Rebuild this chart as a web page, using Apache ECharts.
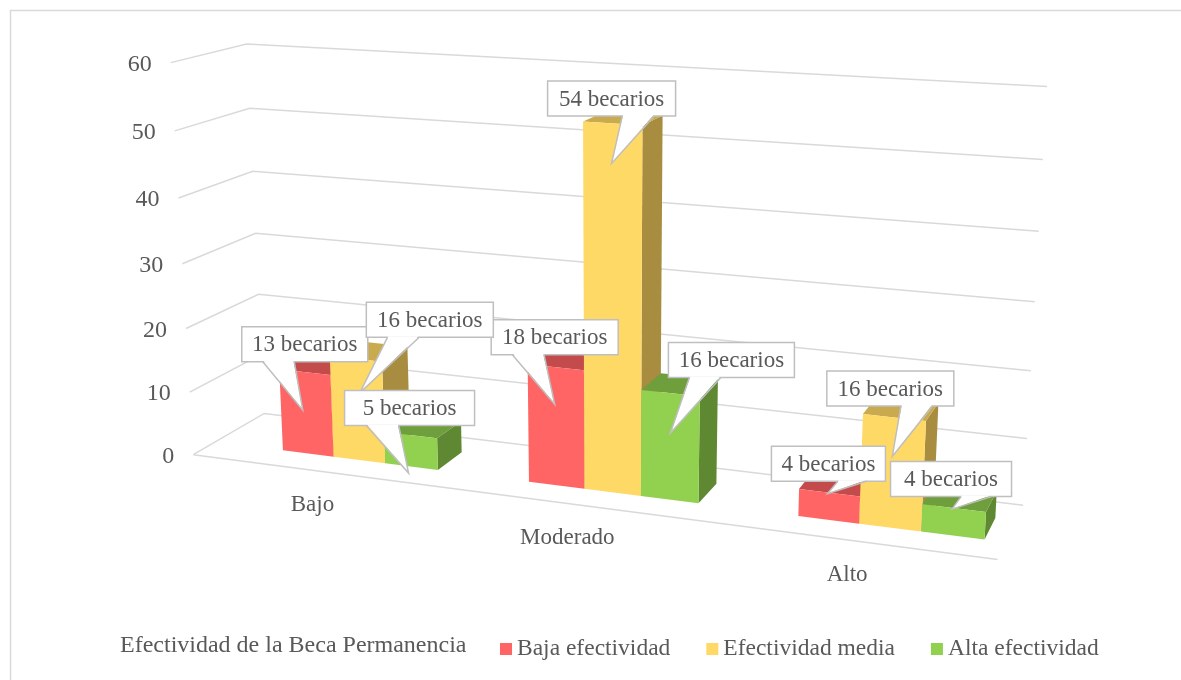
<!DOCTYPE html>
<html>
<head>
<meta charset="utf-8">
<script src="https://cdn.jsdelivr.net/npm/echarts@6/dist/echarts.min.js"></script>
<style>
html, body { margin: 0; padding: 0; background: #fff; }
#main { width: 1181px; height: 680px; }
</style>
</head>
<body>
<div id="main"></div>
<script>
// datos
var categories = ['Bajo', 'Moderado', 'Alto'];
var seriesNames = ['Baja efectividad', 'Efectividad media', 'Alta efectividad'];
var bajaData = [13, 18, 4];
var mediaData = [16, 54, 16];
var altaData = [5, 16, 4];
var yTicks = [0, 10, 20, 30, 40, 50, 60];
var legendTitle = 'Efectividad de la Beca Permanencia';
var unitText = ' becarios';

// estilos
var FAMILY = 'Liberation Serif';
var TEXT_COLOR = '#595959';
var GRID_COLOR = '#d9d9d9';
// [frente, arriba, lado]
var faceColors = [
    ['#FF6565', '#C44B4B', '#B24444'],
    ['#FFD966', '#C9AA4E', '#A88C3F'],
    ['#92D050', '#6F9E3D', '#5F8833']
];
var groupFrac = 0.64;  // ancho del grupo de barras dentro de la categoria
var barShift = 0.11;   // desplazamiento del grupo
var zFront = 0.3, zBack = 0.7;

// posicion de cada etiqueta (globo): punta dx,dy ; caja dx,dy ; ancho ; lado del pico
var calloutLayout = [
    [[-2, 38, 2, -66, 126, -1], [-1, 37, 0, -67, 127, -1], [-2, 1, 1, -30, 114, 1]],
    [[4, 34, 70, -73, 127, -1], [-1, 40, 0, -65, 128, 1], [-2, 39, -2, -68, 127, 1]],
    [[-2, 38, 1, -65, 130, -1], [0, 40, 61, -73, 126, -1], [-2, 1, -1, -30, 121, 1]]
];

// calibracion de la caja 3D (x, y, z normalizados -> pixel)
var calib = [
    [0, 0, 0, 194, 454], [0, 1, 0, 171, 63], [0, 0, 1, 264, 414], [0, 1, 1, 247, 44],
    [1, 1, 1, 1047, 87], [1, 0, 1, 1023, 506], [1, 0, 0, 998, 559],
    [0, 5 / 6, 1, 250, 108], [0, 2 / 3, 1, 253, 171], [0, 1 / 3, 1, 258, 294],
    [0, 1 / 3, 0, 186, 329], [0, 5 / 6, 0, 174, 131], [0, 2 / 3, 0, 178, 198],
    [1, 5 / 6, 1, 1043, 159], [1, 2 / 3, 1, 1039, 231], [1, 1 / 2, 1, 1035, 302],
    [1, 1 / 3, 1, 1030, 371], [1, 1 / 6, 1, 1027, 438]
];

function solve(M, r) {
    var n = r.length, i, j, k;
    for (i = 0; i < n; i++) {
        var piv = i;
        for (k = i + 1; k < n; k++) if (Math.abs(M[k][i]) > Math.abs(M[piv][i])) piv = k;
        var tm = M[i]; M[i] = M[piv]; M[piv] = tm;
        var tr = r[i]; r[i] = r[piv]; r[piv] = tr;
        for (k = i + 1; k < n; k++) {
            var f = M[k][i] / M[i][i];
            for (j = i; j < n; j++) M[k][j] -= f * M[i][j];
            r[k] -= f * r[i];
        }
    }
    var x = [];
    for (i = n - 1; i >= 0; i--) {
        var s = r[i];
        for (j = i + 1; j < n; j++) s -= M[i][j] * x[j];
        x[i] = s / M[i][i];
    }
    return x;
}

function fitProjection(pts) {
    var A = [], b = [];
    pts.forEach(function (p) {
        var X = p[0], Y = p[1], Z = p[2], u = p[3] / 1000, v = p[4] / 1000;
        A.push([X, Y, Z, 1, 0, 0, 0, 0, -u * X, -u * Y, -u * Z]); b.push(u);
        A.push([0, 0, 0, 0, X, Y, Z, 1, -v * X, -v * Y, -v * Z]); b.push(v);
    });
    var M = [], r = [];
    for (var i = 0; i < 11; i++) {
        M[i] = [];
        r[i] = 0;
        for (var j = 0; j < 11; j++) {
            var s = 0;
            for (var k = 0; k < A.length; k++) s += A[k][i] * A[k][j];
            M[i][j] = s;
        }
        for (var k2 = 0; k2 < A.length; k2++) r[i] += A[k2][i] * b[k2];
    }
    return solve(M, r);
}

var P = fitProjection(calib);
function proj(X, Y, Z) {
    var w = P[8] * X + P[9] * Y + P[10] * Z + 1;
    return [
        1000 * (P[0] * X + P[1] * Y + P[2] * Z + P[3]) / w,
        1000 * (P[4] * X + P[5] * Y + P[6] * Z + P[7]) / w
    ];
}

function barGeom(api, k) {
    var W = api.getWidth(), H = api.getHeight();
    var top = api.coord([api.value(0), api.value(1)]);
    var band = api.size([1, 0])[0] / W;
    var bw = band * groupFrac / 3;
    var x0 = top[0] / W + barShift * band - 1.5 * bw + k * bw;
    return { x0: x0, x1: x0 + bw, t: 1 - top[1] / H };
}

function txt(x, y, text, size, align) {
    return { type: 'text', style: { x: x, y: y, text: text, fontSize: size, fontFamily: FAMILY, fill: TEXT_COLOR, align: align, verticalAlign: 'middle' } };
}

function renderWall(params, api) {
    var H = api.getHeight();
    var t = 1 - api.coord([0, api.value(1)])[1] / H;
    var a = proj(0, t, 0), b = proj(0, t, 1), c = proj(1, t, 1);
    var children = [
        { type: 'polyline', shape: { points: [a, b, c] }, style: { stroke: GRID_COLOR, lineWidth: 1.5, fill: null } },
        txt(a[0] - 19, a[1] + 2, String(api.value(1)), 24, 'right')
    ];
    if (api.value(1) === 0) {
        children.push({ type: 'polyline', shape: { points: [a, proj(1, 0, 0)] }, style: { stroke: GRID_COLOR, lineWidth: 1.5, fill: null } });
    }
    return { type: 'group', children: children };
}

function renderCategory(params, api) {
    var W = api.getWidth();
    var c = api.coord([api.value(0), 0]);
    var p = proj(c[0] / W, 0, 0);
    return txt(p[0], p[1] + 35, categories[params.dataIndex], 23, 'center');
}

function renderBar(params, api) {
    var k = params.seriesIndex - 2;
    var g = barGeom(api, k);
    var col = faceColors[k];
    var fb0 = proj(g.x0, 0, zFront), fb1 = proj(g.x1, 0, zFront);
    var ft0 = proj(g.x0, g.t, zFront), ft1 = proj(g.x1, g.t, zFront);
    var bb1 = proj(g.x1, 0, zBack), bt1 = proj(g.x1, g.t, zBack), bt0 = proj(g.x0, g.t, zBack);
    return {
        type: 'group',
        children: [
            { type: 'polygon', shape: { points: [fb1, bb1, bt1, ft1] }, style: { fill: col[2] } },
            { type: 'polygon', shape: { points: [ft0, ft1, bt1, bt0] }, style: { fill: col[1] } },
            { type: 'polygon', shape: { points: [fb0, fb1, ft1, ft0] }, style: { fill: col[0] } }
        ]
    };
}

function renderCallout(params, api) {
    var k = api.value(2), ci = api.value(0);
    var g = barGeom(api, k);
    var L = calloutLayout[k][ci];
    var p = proj((g.x0 + g.x1) / 2, g.t, zFront);
    var tip = [p[0] + L[0], p[1] + L[1]];
    var w = L[4], h = 35;
    var cx = tip[0] + L[2], cy = tip[1] + L[3];
    var left = cx - w / 2, bottom = cy + h / 2;
    var bl = left + w * (L[5] < 0 ? 2 : 7) / 12, br = left + w * (L[5] < 0 ? 5 : 10) / 12;
    var line = { stroke: '#bfbfbf', lineWidth: 1.5, fill: null };
    return {
        type: 'group',
        children: [
            { type: 'rect', shape: { x: left, y: cy - h / 2, width: w, height: h }, style: { fill: '#fff', stroke: '#bfbfbf', lineWidth: 1.5 } },
            { type: 'polygon', shape: { points: [[bl + 0.8, bottom - 1], [br - 0.8, bottom - 1], tip] }, style: { fill: '#fff' } },
            { type: 'polyline', shape: { points: [[bl, bottom], tip, [br, bottom]] }, style: line },
            txt(cx, cy + 1, api.value(1) + unitText, 23, 'center')
        ]
    };
}

var allData = [bajaData, mediaData, altaData];
var calloutData = [];
allData.forEach(function (arr, k) {
    arr.forEach(function (v, i) { calloutData.push([i, v, k]); });
});

var myChart = echarts.init(document.getElementById('main'));
var option = {
    animation: false,
    backgroundColor: '#fff',
    textStyle: { fontFamily: FAMILY },
    grid: { left: 0, right: 0, top: 0, bottom: 0, show: false },
    xAxis: { type: 'category', data: categories, show: false },
    yAxis: { type: 'value', min: 0, max: 60, interval: 10, show: false },
    legend: {
        data: seriesNames,
        left: 500,
        top: 637,
        padding: 0,
        icon: 'rect',
        itemWidth: 12,
        itemHeight: 12,
        itemGap: 36,
        selectedMode: false,
        textStyle: { fontFamily: FAMILY, fontSize: 23.5, color: TEXT_COLOR }
    },
    graphic: [
        { type: 'rect', silent: true, shape: { x: 10.5, y: 10.5, width: 1200, height: 700 }, style: { fill: null, stroke: GRID_COLOR, lineWidth: 1.5 } },
        { type: 'text', left: 120, top: 634, style: { text: legendTitle, fontSize: 24, fontFamily: FAMILY, fill: TEXT_COLOR } }
    ],
    series: [
        { type: 'custom', name: 'muros', silent: true, clip: false, renderItem: renderWall,
          data: yTicks.map(function (v) { return [0, v]; }) },
        { type: 'custom', name: 'categorias', silent: true, clip: false, renderItem: renderCategory,
          data: categories.map(function (c, i) { return [i, 0]; }) },
        { type: 'custom', name: seriesNames[0], clip: false, renderItem: renderBar, itemStyle: { color: faceColors[0][0] },
          data: bajaData.map(function (v, i) { return [i, v]; }) },
        { type: 'custom', name: seriesNames[1], clip: false, renderItem: renderBar, itemStyle: { color: faceColors[1][0] },
          data: mediaData.map(function (v, i) { return [i, v]; }) },
        { type: 'custom', name: seriesNames[2], clip: false, renderItem: renderBar, itemStyle: { color: faceColors[2][0] },
          data: altaData.map(function (v, i) { return [i, v]; }) },
        { type: 'custom', name: 'etiquetas', silent: true, clip: false, z: 5, renderItem: renderCallout,
          data: calloutData }
    ]
};
myChart.setOption(option);
window.onresize = function () { myChart.resize(); };
</script>
</body>
</html>
